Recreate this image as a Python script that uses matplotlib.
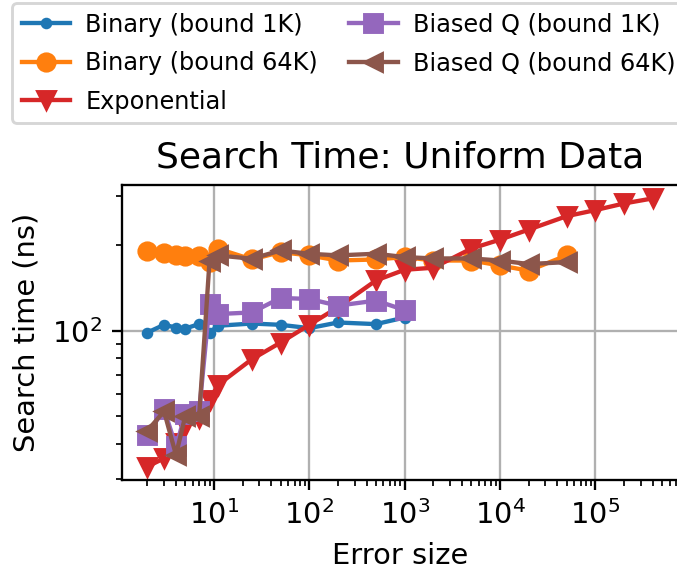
import matplotlib
matplotlib.use("Agg")
import matplotlib.pyplot as plt

# Error sizes per series
err_small = [2, 3, 4, 5, 7, 9, 11, 25, 50, 100, 200, 500, 1000]
err_large = [2, 3, 4, 5, 7, 9, 11, 25, 50, 100, 200, 500, 1000,
             2000, 5000, 10000, 20000, 50000]
err_exp = [2, 3, 4, 5, 7, 9, 11, 25, 50, 100, 200, 500, 1000,
           2000, 5000, 10000, 20000, 50000, 100000, 200000, 400000]

# Search times (ns)
binary_1k = [98.6, 105, 102.7, 101.9, 105.6, 98.6, 104.2, 106.1, 105,
             102.2, 107, 105.6, 111.4]
binary_64k = [190.6, 187.6, 185.3, 183, 183, 174.7, 194.9, 178.5, 189.5,
              184.5, 177, 178.5, 182, 177, 177, 170, 163, 184.5]
exponential = [33.2, 35.5, 40.1, 46.1, 49.1, 56.9, 64.4, 79.4, 90.9, 105,
               121, 150.5, 164.2, 166.9, 194.9, 209.7, 227.5, 253.7, 266.5,
               281.3, 293.1]
biased_1k = [43, 52.9, 39.1, 50.7, 52, 124.3, 114.6, 116.1, 130.6, 129.5,
             122.7, 127.8, 118.4]
biased_64k = [44.4, 52, 36.5, 50, 50, 177, 184.5, 179.6, 192, 187, 184.5,
              187, 182, 180, 180, 177, 172, 174.7]

DPI = 208
fig = plt.figure(figsize=(677 / DPI, 571 / DPI), dpi=DPI)
ax = fig.add_axes([122 / 677, 1 - 480 / 571, 556 / 677, 295 / 571])

ax.plot(err_small, binary_1k, ".-", color="C0", label="Binary (bound 1K)")
ax.plot(err_large, binary_64k, "o-", color="C1", label="Binary (bound 64K)")
ax.plot(err_exp, exponential, "v-", color="C3", label="Exponential")
ax.plot(err_small, biased_1k, "s-", color="C4", label="Biased Q (bound 1K)")
ax.plot(err_large, biased_64k, "<-", color="C5", label="Biased Q (bound 64K)")

ax.set_xscale("log")
ax.set_yscale("log")
ax.grid(True)
ax.set_xlabel("Error size")
ax.set_ylabel("Search time (ns)")
ax.set_title("Search Time: Uniform Data", fontsize=12.5)

fig.legend(loc="upper left", bbox_to_anchor=(12 / 677, 1 - 3 / 571),
           borderaxespad=0, ncol=2, fontsize="small",
           columnspacing=1.3, handletextpad=0.65, labelspacing=0.6)

fig.savefig("out.png", dpi=DPI)
